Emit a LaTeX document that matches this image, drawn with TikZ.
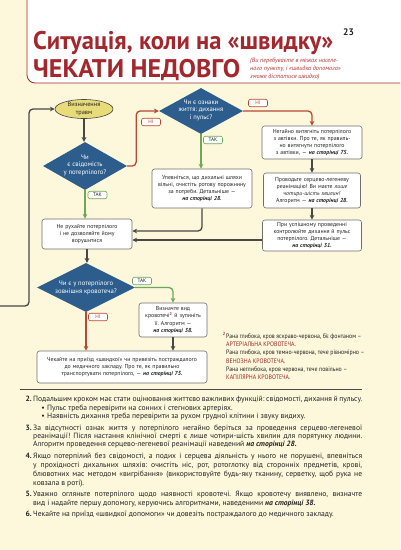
\documentclass[tikz,border=0pt]{standalone}
\usepackage{fontspec}
\usepackage{graphicx}
\setmainfont{PT Sans}
\newfontfamily\condfont[FakeStretch=0.9]{PT Sans}
\usetikzlibrary{shapes.geometric,arrows.meta,calc}
\definecolor{bgcream}{RGB}{253,248,220}
\definecolor{titlered}{RGB}{163,40,46}
\definecolor{subred}{RGB}{185,55,55}
\definecolor{diamblue}{RGB}{45,93,140}
\definecolor{ellfill}{RGB}{232,219,122}
\definecolor{linedark}{RGB}{72,72,72}
\definecolor{linered}{RGB}{183,72,50}
\definecolor{linegreen}{RGB}{108,168,88}
\definecolor{boxgray}{RGB}{110,110,110}
\definecolor{textdark}{RGB}{35,35,35}
\newcommand{\pgbi}[1]{\textbf{\textit{#1}}}
\newcommand{\jline}[1]{\makebox[329pt][s]{#1}}
\frenchspacing
\begin{document}
\begin{tikzpicture}[x=1pt,y=-1pt,
  box/.style={draw=boxgray, fill=white, rounded corners=2.5pt, line width=0.6pt, align=center, inner sep=1pt, text=textdark, font=\fontsize{5.8}{7.2}\selectfont},
  dshape/.style={diamond, fill=diamblue, inner sep=0pt},
  dtext/.style={text=white, align=center, inner sep=0pt, font=\fontsize{6.7}{7.6}\selectfont},
  lab/.style={fill=white, rounded corners=2pt, line width=0.6pt, inner sep=0pt, minimum width=19pt, minimum height=7.5pt, font=\fontsize{5.2}{5.5}\selectfont},
  nolab/.style={lab, draw=linered, text=linered},
  yeslab/.style={lab, draw=linegreen, text=textdark},
  conn/.style={line width=1.3pt, rounded corners=4pt, -{Stealth[length=4.8pt,width=4.8pt]}},
  dk/.style={conn, draw=linedark},
  rd/.style={conn, draw=linered},
  gr/.style={conn, draw=linegreen},
  body/.style={anchor=north west, inner sep=0pt, align=left, text=textdark, font=\fontsize{7.6}{8.5}\selectfont},
]
\useasboundingbox (0,0) rectangle (400,550);
\clip (0,0) rectangle (400,550);
\fill[bgcream] (0,0) rectangle (400,550);
% header
\draw[draw=titlered, fill=white, line width=0.8pt, rounded corners=8pt] (27,-20) rectangle (420,83);
\node[anchor=base west, inner sep=0pt, text=titlered] (t1) at (33,49.5)
  {\resizebox{300pt}{\height}{\fontsize{25.5}{26}\selectfont\bfseries Ситуація, коли на «швидку»}};
\node[anchor=base west, inner sep=0pt, text=titlered] (t2) at (33,77.3)
  {\resizebox{207pt}{\height}{\fontsize{25.5}{26}\selectfont\bfseries ЧЕКАТИ НЕДОВГО}};
\node[anchor=base west, inner sep=0pt, text=textdark, font=\fontsize{9.5}{10}\selectfont\bfseries] (pg) at (343,35) {23};
\node[anchor=north west, inner sep=0pt, align=left, text=subred, font=\fontsize{6.2}{7.8}\selectfont\itshape] (sub) at (250,58.3)
  {(Ви перебуваєте в межах населе-\\ного пункту, і «швидка допомога»\\зможе дістатися швидко)};

% flowchart nodes
\node[ellipse, draw=linedark, line width=0.6pt, fill=ellfill, minimum width=58pt, minimum height=19pt, inner sep=0pt] (e) at (84,109) {};
\node[inner sep=0pt, align=center, text=textdark, font=\fontsize{6.3}{7.6}\selectfont] (et) at (e) {Визначення\\травм};

\node[dshape, minimum width=84pt, minimum height=48pt] (d1) at (85,166) {};
\node[dtext] (d1t) at (85,165) {Чи\\є свідомість\\у потерпілого?};

\node[dshape, minimum width=84pt, minimum height=46pt] (d2) at (201,111) {};
\node[dtext] (d2t) at (201,110) {Чи є ознаки\\життя: дихання\\і пульс?};

\node[dshape, minimum width=98pt, minimum height=49pt] (d3) at (86,287.5) {};
\node[dtext] (d3t) at (86,287.5) {Чи є у потерпілого\\зовнішня кровотеча?};

\node[box, text width=98pt, minimum height=33pt] (b6) at (312,142.5)
  {Негайно витягніть потерпілого\\з автівки. Про те, як правиль-\\но витягнути потерпілого\\з автівки, — \pgbi{на сторінці 75.}};
\node[box, text width=95pt, minimum height=35pt] (b7) at (312,190.5)
  {Проводьте серцево-легеневу\\реанімацію! Ви маєте \textit{лише}\\\textit{чотири-шість хвилин!}\\Алгоритм — \pgbi{на сторінці 28.}};
\node[box, text width=97pt, minimum height=31pt] (b8) at (312,235.5)
  {При успішному проведенні\\контролюйте дихання й пульс\\потерпілого. Детальніше —\\\pgbi{на сторінці 31.}};
\node[box, text width=98pt, minimum height=39pt] (b10) at (202,188.5)
  {Упевніться, що дихальні шляхи\\вільні, очистіть ротову порожнину\\за потреби. Детальніше —\\\pgbi{на сторінці 28.}};
\node[box, text width=88pt, minimum height=30pt] (b12) at (87,234)
  {Не рухайте потерпілого\\і не дозволяйте йому\\ворушитися};
\node[box, text width=66pt, minimum height=34pt] (b15) at (173,320)
  {Визначте вид\\кровотечі\textsuperscript{\color{titlered}\bfseries 2} й зупиніть\\її. Алгоритм —\\\pgbi{на сторінці 38.}};
\node[box, text width=168pt, minimum height=32pt] (b17) at (122,367)
  {Чекайте на приїзд «швидкої» чи привезіть постраждалого\\до медичного закладу. Про те, як правильно\\транспортувати потерпілого, — \pgbi{на сторінці 75.}};

% connectors
\coordinate (lp) at (0,306);
\coordinate (lc) at (29,306);
\coordinate (b12in1) at ($(b12.east)+(0,-3)$);
\coordinate (b12in2) at ($(b12.east)+(0,6)$);
\draw[dk] (lp) -- (lc) |- (e.west);
\draw[dk] (e.south) -- (e.south |- d1.north);
\draw[rd] (d1.east) -- ++(9,0) |- (d2.west);
\draw[rd] (d2.east) -| (b6.north);
\draw[gr] (d2.south) -- (d2.south |- b10.north);
\draw[dk] (b6.south) -- (b6.south |- b7.north);
\draw[dk] (b7.south) -- (b7.south |- b8.north);
\draw[dk] (b10.south) |- (b12in1);
\draw[dk] (b8.west |- b12in2) -- (b12in2);
\draw[gr] (d1.south) -- (d1.south |- b12.north);
\draw[dk] (b12.south) -- (b12.south |- d3.north);
\draw[gr] (d3.east) -| (b15.north);
\draw[rd] (d3.south) -- (d3.south |- b17.north);
\draw[dk] (b15.south) -- (b15.south |- b17.north);

% labels
\node[nolab] (l1) at (151,122) {НІ};
\node[nolab] (l2) at (258,103) {НІ};
\node[yeslab] (l3) at (213,140) {ТАК};
\node[yeslab] (l4) at (97.5,195) {ТАК};
\node[yeslab] (l5) at (142,281) {ТАК};
\node[nolab] (l6) at (98,317) {НІ};

% footnote
\node[anchor=north west, inner sep=0pt, align=left, text=textdark, font=\condfont\fontsize{6.5}{8.2}\selectfont] (fn) at (226,332.5)
  {\llap{\textcolor{titlered}{\textsuperscript{\bfseries 2}}\hspace{0.6pt}}Рана глибока, кров яскраво-червона, б’є фонтаном –\\
   \textcolor{titlered}{АРТЕРІАЛЬНА КРОВОТЕЧА}.\\
   Рана глибока, кров темно-червона, тече рівномірно –\\
   \textcolor{titlered}{ВЕНОЗНА КРОВОТЕЧА}.\\
   Рана неглибока, кров червона, тече повільно –\\
   \textcolor{titlered}{КАПІЛЯРНА КРОВОТЕЧА}.};

% rule
\draw[linedark, line width=0.8pt] (20,389) -- (362,389);

% body text
\node[body] (p2) at (33,396.2)
  {\llap{\textbf{2.}\hspace{1.5pt}}\jline{Подальшим кроком має стати оцінювання життєво важливих функцій: свідомості, дихання й пульсу.}\\
   \hspace*{14pt}\llap{•\hspace{2.5pt}}Пульс треба перевірити на сонних і стегнових артеріях.\\
   \hspace*{14pt}\llap{•\hspace{2.5pt}}Наявність дихання треба перевірити за рухом грудної клітини і звуку видиху.};
\node[body, font=\fontsize{7.6}{7.8}\selectfont] (p3) at (33,425.2)
  {\llap{\textbf{3.}\hspace{1.5pt}}\jline{За відсутності ознак життя у потерпілого негайно беріться за проведення серцево-легеневої}\\
   \jline{реанімації! Після настання клінічної смерті є лише чотири-шість хвилин для порятунку людини.}\\
   Алгоритм проведення серцево-легеневої реанімації наведений \pgbi{на сторінці 28.}};
\node[body, font=\fontsize{7.6}{9}\selectfont] (p4) at (33,453.2)
  {\llap{\textbf{4.}\hspace{1.5pt}}\jline{Якщо потерпілий без свідомості, а подих і серцева діяльність у нього не порушені, впевніться}\\
   \jline{у прохідності дихальних шляхів: очистіть ніс, рот, ротоглотку від сторонніх предметів, крові,}\\
   \jline{блювотних мас методом «вигрібання» (використовуйте будь-яку тканину, серветку, щоб рука не}\\
   ковзала в роті).};
\node[body] (p5) at (33,491.2)
  {\llap{\textbf{5.}\hspace{1.5pt}}\jline{Уважно огляньте потерпілого щодо наявності кровотечі. Якщо кровотечу виявлено, визначте}\\
   вид і надайте першу допомогу, керуючись алгоритмами, наведеними \pgbi{на сторінці 38.}};
\node[body] (p6) at (33,511.2)
  {\llap{\textbf{6.}\hspace{1.5pt}}Чекайте на приїзд «швидкої допомоги» чи довезіть постраждалого до медичного закладу.};
\end{tikzpicture}
\end{document}
